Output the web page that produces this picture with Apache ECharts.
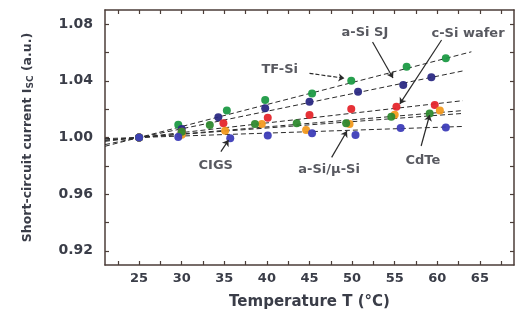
<!DOCTYPE html>
<html><head><meta charset="utf-8">
<script src="https://cdn.jsdelivr.net/npm/echarts@6/dist/echarts.min.js"></script>
<style>html,body{margin:0;padding:0;background:#fff}#c{width:524px;height:322px}</style>
</head><body><div id="c"></div>
<script>
// ---- data ----
const xTickLabels = [25, 30, 35, 40, 45, 50, 55, 60, 65];
const xMinorTicks = [22.5, 27.5, 32.5, 37.5, 42.5, 47.5, 52.5, 57.5, 62.5, 67.5];
const yTickLabels = [0.92, 0.96, 1.00, 1.04, 1.08];
const yMinorTicks = [0.94, 0.98, 1.02, 1.06];

const seriesNames = ['TF-Si', 'a-Si SJ', 'c-Si wafer', 'a-Si/µ-Si', 'CdTe', 'CIGS'];
const seriesColors = ['#1c9a45', '#2b2a84', '#e5262c', '#f29a1f', '#2f8a2f', '#3d3db8'];

const tfSiX = [25, 29.6, 35.3, 39.8, 45.3, 49.9, 56.4, 61.0];
const tfSiY = [1.000, 1.009, 1.019, 1.0265, 1.031, 1.040, 1.050, 1.056];
const aSiSJX = [25, 30, 34.3, 39.8, 45.0, 50.7, 56.0, 59.3];
const aSiSJY = [1.000, 1.006, 1.0143, 1.0206, 1.0253, 1.0323, 1.0371, 1.0425];
const cSiX = [25, 30, 34.9, 40.1, 45.0, 49.9, 55.2, 59.7];
const cSiY = [1.000, 1.004, 1.010, 1.014, 1.0159, 1.0201, 1.0217, 1.0229];
const aSiMuX = [25, 30, 35.1, 39.4, 44.6, 49.7, 55.0, 60.3];
const aSiMuY = [1.000, 1.002, 1.0048, 1.0095, 1.0053, 1.0095, 1.016, 1.019];
const cdteX = [25, 30, 33.3, 38.6, 43.5, 49.3, 54.6, 59.1];
const cdteY = [1.000, 1.004, 1.0088, 1.0095, 1.010, 1.010, 1.0147, 1.017];
const cigsX = [25, 29.6, 35.7, 40.1, 45.3, 50.4, 55.7, 61.0];
const cigsY = [1.000, 1.0004, 0.9994, 1.0014, 1.003, 1.0018, 1.0067, 1.007];

// fit lines: [xStart, yStart, xEnd, yEnd]
const fitTFSi = [21, 0.9938, 64, 1.0605];
const fitASiSJ = [21, 0.9950, 63, 1.0470];
const fitCSi = [21, 0.9973, 63, 1.0260];
const fitASiMu = [21, 0.9980, 63, 1.0190];
const fitCdTe = [21, 0.9982, 63, 1.0170];
const fitCIGS = [21, 0.9992, 63, 1.0078];

// annotations: text, label anchor, arrow from, arrow tip
const annText = ['a-Si SJ', 'c-Si wafer', 'TF-Si', 'CIGS', 'a-Si/µ-Si', 'CdTe'];
const annAt = [[51.5, 1.0738], [63.6, 1.0730], [41.5, 1.0476], [34.0, 0.9800], [47.3, 0.9770], [58.3, 0.9840]];
const annFrom = [[52.4, 1.0674], [60.5, 1.0688], [45.0, 1.0453], [34.6, 0.9900], [47.6, 0.9860], [58.1, 0.9940]];
const annTip = [[54.8, 1.0420], [55.6, 1.0237], [49.1, 1.0418], [35.5, 0.9982], [49.4, 1.0046], [59.1, 1.0159]];
const annDashed = [false, false, true, false, false, false];

// ---- chart ----
const pts = [[tfSiX, tfSiY], [aSiSJX, aSiSJY], [cSiX, cSiY], [aSiMuX, aSiMuY], [cdteX, cdteY], [cigsX, cigsY]];
const fits = [fitTFSi, fitASiSJ, fitCSi, fitASiMu, fitCdTe, fitCIGS];
const frame = '#4b3d38';
const txt = '#3a3d48';
const font = '"DejaVu Sans", Verdana, sans-serif';
const xAllTicks = xTickLabels.concat(xMinorTicks).sort((a, b) => a - b);
const yAllTicks = yTickLabels.concat(yMinorTicks).sort((a, b) => a - b);

const series = [];
fits.forEach((f, i) => {
  series.push({
    type: 'line', name: seriesNames[i] + ' fit', silent: true, symbol: 'none', z: 2,
    data: [[f[0], f[1]], [f[2], f[3]]],
    lineStyle: { color: '#2a2a2a', width: 1, type: [5, 3] }
  });
});
pts.forEach((p, i) => {
  series.push({
    type: 'scatter', name: seriesNames[i], symbol: 'circle', symbolSize: 8, z: 3,
    data: p[0].map((x, k) => [x, p[1][k]]),
    itemStyle: { color: seriesColors[i], opacity: 0.95 }
  });
});
series.push({
  type: 'lines', coordinateSystem: 'cartesian2d', z: 4, silent: true,
  symbol: ['none', 'arrow'], symbolSize: 6,
  data: annFrom.map((f, i) => ({
    coords: [f, annTip[i]],
    lineStyle: { color: '#2a2a2a', width: 1.2, opacity: 1, type: annDashed[i] ? [4, 2] : 'solid' }
  }))
});
series.push({
  type: 'scatter', z: 5, silent: true, symbolSize: 1, itemStyle: { color: 'rgba(0,0,0,0)' },
  data: annAt.map((a, i) => ({ value: a, name: annText[i] })),
  label: { show: true, position: 'inside', formatter: p => p.name,
    fontFamily: font, fontWeight: 'bold', fontSize: 13, color: '#2e3038' }
});

const axisLineStyle = { show: true, onZero: false, lineStyle: { color: frame, width: 1.5 } };

const chart = echarts.init(document.getElementById('c'), null, { renderer: 'canvas' });
chart.setOption({
  animation: false,
  grid: { left: 105, right: 10, top: 10, bottom: 57 },
  xAxis: [
    { type: 'value', min: 21, max: 69, position: 'bottom', splitLine: { show: false }, axisLine: axisLineStyle,
      name: 'Temperature T (°C)', nameLocation: 'middle', nameGap: 30,
      nameTextStyle: { fontFamily: font, fontWeight: 'bold', fontSize: 15, color: txt },
      axisTick: { show: true, inside: true, length: 4, customValues: xAllTicks, lineStyle: { color: frame, width: 1.2 } },
      axisLabel: { show: true, customValues: xTickLabels, margin: 7, fontFamily: font, fontWeight: 'bold', fontSize: 13, color: txt } },
    { type: 'value', min: 21, max: 69, position: 'top', splitLine: { show: false }, axisLine: axisLineStyle,
      axisTick: { show: true, inside: true, length: 4, customValues: xAllTicks, lineStyle: { color: frame, width: 1.2 } },
      axisLabel: { show: false } }
  ],
  yAxis: [
    { type: 'value', min: 0.91, max: 1.09, position: 'left', splitLine: { show: false }, axisLine: axisLineStyle,
      name: 'Short-circuit current I{sub|SC} (a.u.)', nameLocation: 'middle', nameGap: 70, nameRotate: 90,
      nameTextStyle: { fontFamily: font, fontWeight: 'bold', fontSize: 12.5, color: txt,
        rich: { sub: { fontFamily: font, fontWeight: 'bold', fontSize: 9, color: txt, verticalAlign: 'bottom', padding: [6, 0, 0, 0] } } },
      axisTick: { show: true, inside: true, length: 4, customValues: yAllTicks, lineStyle: { color: frame, width: 1.2 } },
      axisLabel: { show: true, customValues: yTickLabels, margin: 12, fontFamily: font, fontWeight: 'bold', fontSize: 14, color: txt,
        formatter: v => v.toFixed(2) } },
    { type: 'value', min: 0.91, max: 1.09, position: 'right', splitLine: { show: false }, axisLine: axisLineStyle,
      axisTick: { show: true, inside: true, length: 4, customValues: yAllTicks, lineStyle: { color: frame, width: 1.2 } },
      axisLabel: { show: false } }
  ],
  series: series
});
</script>
</body></html>
